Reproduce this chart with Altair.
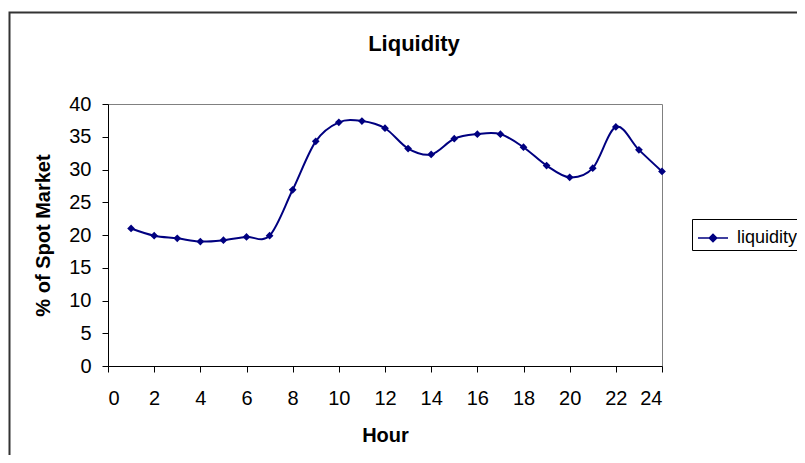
import altair as alt
import pandas as pd

hours = list(range(1, 25))
liquidity = [21.0, 19.9, 19.5, 19.0, 19.2, 19.7, 19.9, 26.9, 34.3, 37.2, 37.4, 36.3,
             33.2, 32.3, 34.7, 35.4, 35.4, 33.4, 30.6, 28.8, 30.2, 36.5, 33.0, 29.7]
series_name = ["liquidity"] * len(hours)
x_ticks = list(range(0, 25, 2))
y_ticks = list(range(0, 41, 5))
chart_title = "Liquidity"

df = pd.DataFrame({"Hour": hours, "value": liquidity, "series": series_name})

NAVY = "#000080"
FONT = "Liberation Sans"
legend_symbol = "M-1,0H1M-0.25,0L0,-0.25L0.25,0L0,0.25Z"

one = pd.DataFrame({"k": [0]})

frame = alt.Chart(one).mark_rect(
    fillOpacity=0, stroke="#333333", strokeWidth=2
).encode(
    x=alt.value(-98.5), x2=alt.value(800), y=alt.value(-91.5), y2=alt.value(500)
)

title = alt.Chart(one).mark_text(
    text=chart_title, font=FONT, fontSize=22, fontWeight="bold", color="black",
    align="center", baseline="alphabetic"
).encode(x=alt.value(306), y=alt.value(-53))

line = alt.Chart(df).mark_line(
    interpolate="cardinal", strokeWidth=2,
    point=alt.OverlayMarkDef(shape="diamond", size=60, filled=True),
).encode(
    x=alt.X("Hour:Q", scale=alt.Scale(domain=[0, 24], nice=False, zero=False),
            axis=alt.Axis(values=x_ticks, title="Hour", labelPadding=16,
                          titleY=75.7, titleBaseline="alphabetic")),
    y=alt.Y("value:Q", scale=alt.Scale(domain=[0, 40], nice=False),
            axis=alt.Axis(values=y_ticks, title="% of Spot Market", labelPadding=11,
                          titleX=-58.7, titleBaseline="alphabetic")),
    color=alt.Color("series:N", scale=alt.Scale(range=[NAVY]),
                    legend=alt.Legend(title=None, orient="none", legendX=584, legendY=115,
                                      symbolType=legend_symbol, symbolSize=900,
                                      symbolStrokeWidth=1.5, symbolStrokeColor=NAVY,
                                      symbolFillColor=NAVY, labelFont=FONT,
                                      labelFontSize=18, labelColor="black",
                                      strokeColor="black", fillColor="white",
                                      padding=3, symbolOffset=2, labelOffset=8)),
)

chart = alt.layer(frame, title, line).properties(
    width=554, height=262,
    autosize="none",
    padding={"left": 100, "top": 96, "right": 135, "bottom": 89},
).configure_view(
    stroke="#808080", strokeWidth=1
).configure_axis(
    grid=False, domainColor="#000000", domainWidth=1, tickColor="#000000",
    tickSize=6, labelFont=FONT, labelFontSize=20, labelColor="black",
    titleFont=FONT, titleFontSize=20, titleFontWeight="bold", titleColor="black",
)

chart.save("out.html", embed_options={"renderer": "svg", "actions": False})
